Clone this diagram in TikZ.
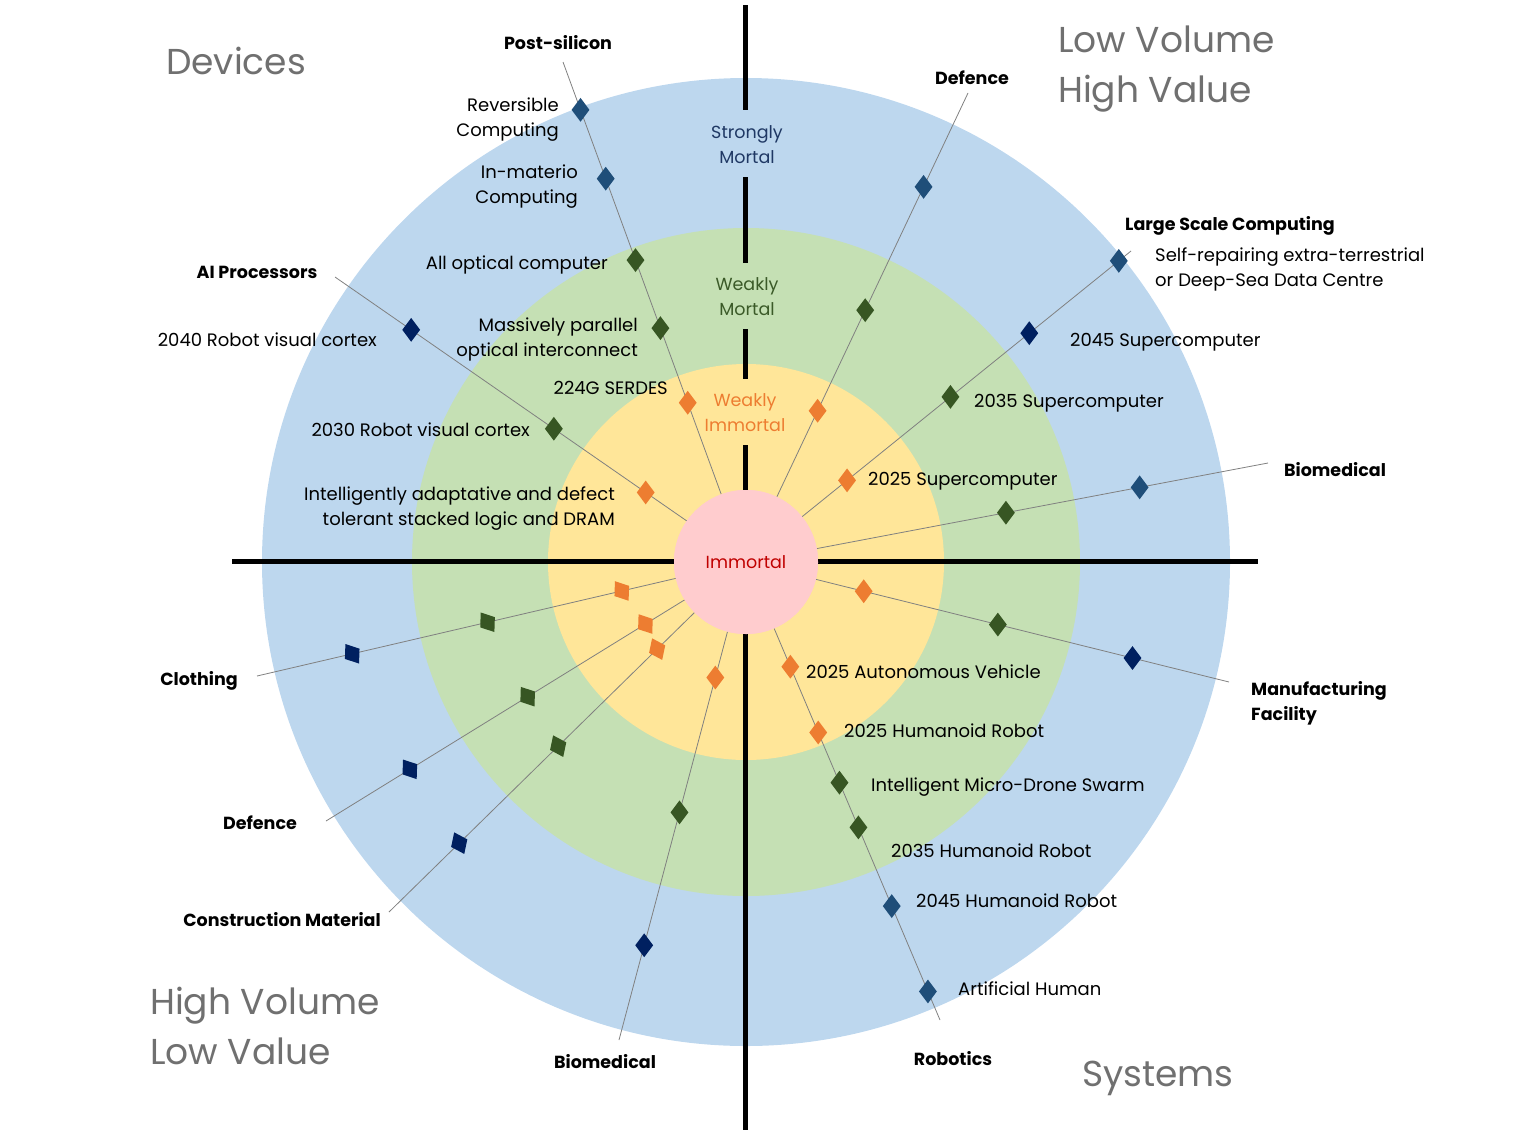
\documentclass[tikz,border=0pt]{standalone}
\usepackage{fontspec}
\setmainfont{Poppins}
\usetikzlibrary{shapes.geometric,calc}
\definecolor{ringblue}{HTML}{BDD7EE}
\definecolor{ringgreen}{HTML}{C5E0B4}
\definecolor{ringyellow}{HTML}{FFE699}
\definecolor{ringpink}{HTML}{FFCCCE}
\definecolor{dorange}{HTML}{ED7D31}
\definecolor{dgreen}{HTML}{375623}
\definecolor{dnavy}{HTML}{002060}
\definecolor{dblue}{HTML}{1F4E79}
\definecolor{quadgray}{HTML}{707070}
\definecolor{immred}{HTML}{C00000}
\definecolor{mortnavy}{HTML}{1F3864}
\definecolor{mortgreen}{HTML}{3B5A28}
\tikzset{
  lbl/.style={font=\fontsize{18}{25}\selectfont, text=black, inner sep=0},
  cat/.style={font=\fontsize{17.5}{25}\selectfont\bfseries, text=black, inner sep=0},
  quad/.style={font=\fontsize{36}{50}\selectfont, text=quadgray, inner sep=0, align=left},
  ring/.style={font=\fontsize{17.5}{25}\selectfont, inner sep=0, align=center},
  spoke/.style={draw=gray, line width=0.8pt},
  axis/.style={line width=5pt, black},
  mk/.style={diamond, minimum width=18pt, minimum height=24pt, inner sep=0},
  mo/.style={mk, fill=dorange},
  mg/.style={mk, fill=dgreen},
  mn/.style={mk, fill=dnavy},
  mb/.style={mk, fill=dblue},
}
\begin{document}
\begin{tikzpicture}[x=1pt,y=-1pt]
\useasboundingbox (0,0) rectangle (1522,1133);
\coordinate (C) at (746,562);
% rings
\fill[ringblue] (C) circle[radius=484pt];
\fill[ringgreen] (C) circle[radius=334pt];
\fill[ringyellow] (C) circle[radius=198pt];
% axes
\draw[axis] (232,561) -- (1258,561);
\draw[axis] (745,5) -- (745,110);
\draw[axis] (745,177) -- (745,263);
\draw[axis] (745,329) -- (745,379);
\draw[axis] (745,445) -- (745,1130);
% spoke ends
\coordinate (ePS) at (563,62);
\coordinate (eDT) at (968,93);
\coordinate (eLS) at (1131,251);
\coordinate (eBR) at (1268,463);
\coordinate (eMF) at (1229,682);
\coordinate (eRB) at (940,1020);
\coordinate (eBB) at (619,1040);
\coordinate (eCM) at (389,912);
\coordinate (eDB) at (326,821);
\coordinate (eCL) at (257,676);
\coordinate (eAI) at (335,277);
% centre
\node[circle, fill=ringpink, minimum size=144pt, inner sep=0] (imm) at (C) {};
\foreach \e in {ePS,eDT,eLS,eBR,eMF,eRB,eBB,eCM,eDB,eCL,eAI}
  \draw[spoke] (imm) -- (\e);
\node[circle, fill=ringpink, minimum size=144pt, inner sep=0, font=\fontsize{17.5}{20}\selectfont, text=immred] (immt) at (C) {Immortal};
% ring labels
\node[ring, text=mortnavy] (sm) at (747,145) {Strongly\\Mortal};
\node[ring, text=mortgreen] (wm) at (747,297) {Weakly\\Mortal};
\node[ring, text=dorange] (wi) at (745,413) {Weakly\\Immortal};
% diamonds: Post-silicon
\node[mb] (ps1) at ($(C)!(580,110)!(ePS)$) {};
\node[mb] (ps2) at ($(C)!(602,180)!(ePS)$) {};
\node[mg] (ps3) at ($(C)!(633,261)!(ePS)$) {};
\node[mg] (ps4) at ($(C)!(658,329)!(ePS)$) {};
\node[mo] (ps5) at ($(C)!(687,403)!(ePS)$) {};
% Defence top
\node[mb] (dt1) at ($(C)!(924,187)!(eDT)$) {};
\node[mg] (dt2) at ($(C)!(867,311)!(eDT)$) {};
\node[mo] (dt3) at ($(C)!(816,410)!(eDT)$) {};
% Large scale computing
\node[mb] (ls1) at ($(C)!(1123,266)!(eLS)$) {};
\node[mn] (ls2) at ($(C)!(1034,339)!(eLS)$) {};
\node[mg] (ls3) at ($(C)!(953,400)!(eLS)$) {};
\node[mo] (ls4) at ($(C)!(850,484)!(eLS)$) {};
% Biomedical right
\node[mb] (br1) at ($(C)!(1140,489)!(eBR)$) {};
\node[mg] (br2) at ($(C)!(1006,513)!(eBR)$) {};
% Manufacturing
\node[mo] (mf1) at ($(C)!(863,594)!(eMF)$) {};
\node[mg] (mf2) at ($(C)!(997,628)!(eMF)$) {};
\node[mn] (mf3) at ($(C)!(1132,660)!(eMF)$) {};
% Robotics
\node[mo] (rb1) at ($(C)!(792,666)!(eRB)$) {};
\node[mo] (rb2) at ($(C)!(817,733)!(eRB)$) {};
\node[mg] (rb3) at ($(C)!(841,782)!(eRB)$) {};
\node[mg] (rb4) at ($(C)!(857,828)!(eRB)$) {};
\node[mb] (rb5) at ($(C)!(892,906)!(eRB)$) {};
\node[mb] (rb6) at ($(C)!(929,991)!(eRB)$) {};
% Biomedical bottom
\node[mo] (bb1) at ($(C)!(717,678)!(eBB)$) {};
\node[mg] (bb2) at ($(C)!(678,812)!(eBB)$) {};
\node[mn] (bb3) at ($(C)!(643,945)!(eBB)$) {};
% Construction
\node[mo, rotate=25] (cm1) at ($(C)!(658,650)!(eCM)$) {};
\node[mg, rotate=25] (cm2) at ($(C)!(557,745)!(eCM)$) {};
\node[mn, rotate=25] (cm3) at ($(C)!(459,843)!(eCM)$) {};
% Defence bottom
\node[mo, rotate=35] (db1) at ($(C)!(646,625)!(eDB)$) {};
\node[mg, rotate=35] (db2) at ($(C)!(526,694)!(eDB)$) {};
\node[mn, rotate=35] (db3) at ($(C)!(409,768)!(eDB)$) {};
% Clothing
\node[mo, rotate=35] (cl1) at ($(C)!(622,592)!(eCL)$) {};
\node[mg, rotate=35] (cl2) at ($(C)!(487,620)!(eCL)$) {};
\node[mn, rotate=35] (cl3) at ($(C)!(352,653)!(eCL)$) {};
% AI processors
\node[mn] (ai1) at ($(C)!(411,330)!(eAI)$) {};
\node[mg] (ai2) at ($(C)!(555,427)!(eAI)$) {};
\node[mo] (ai3) at ($(C)!(646,492)!(eAI)$) {};
% category labels
\node[cat] (tPS) at (558,43) {Post-silicon};
\node[cat] (tDT) at (972,78) {Defence};
\node[cat] (tLS) at (1230,226) {Large Scale Computing};
\node[cat] (tBR) at (1335,470) {Biomedical};
\node[cat, align=left, anchor=west] (tMF) at (1251,703) {Manufacturing\\Facility};
\node[cat] (tRB) at (953,1059) {Robotics};
\node[cat] (tBB) at (605,1062) {Biomedical};
\node[cat] (tCM) at (282,920) {Construction Material};
\node[cat] (tDB) at (260,823) {Defence};
\node[cat] (tCL) at (199,681) {Clothing};
\node[cat] (tAI) at (257,272) {AI Processors};
% item labels
\node[lbl, align=right, anchor=east] (l1) at (559,120) {Reversible\\Computing};
\node[lbl, align=right, anchor=east] (l2) at (578,187) {In-materio\\Computing};
\node[lbl, anchor=east] (l3) at (608,265) {All optical computer};
\node[lbl, align=right, anchor=east] (l4) at (638,339) {Massively parallel\\optical interconnect};
\node[lbl, anchor=east] (l5) at (668,388) {224G SERDES};
\node[lbl, align=left, anchor=west] (l6) at (1155,269) {Self-repairing extra-terrestrial\\or Deep-Sea Data Centre};
\node[lbl, anchor=west] (l7) at (1070,342) {2045 Supercomputer};
\node[lbl, anchor=west] (l8) at (974,403) {2035 Supercomputer};
\node[lbl, anchor=west] (l9) at (868,481) {2025 Supercomputer};
\node[lbl, anchor=west] (l10) at (806,672) {2025 Autonomous Vehicle};
\node[lbl, anchor=west] (l11) at (844,731) {2025 Humanoid Robot};
\node[lbl, anchor=west] (l12) at (871,787) {Intelligent Micro-Drone Swarm};
\node[lbl, anchor=west] (l13) at (891,851) {2035 Humanoid Robot};
\node[lbl, anchor=west] (l14) at (916,901) {2045 Humanoid Robot};
\node[lbl, anchor=west] (l15) at (958,989) {Artificial Human};
\node[lbl, anchor=east] (l16) at (377,340) {2040 Robot visual cortex};
\node[lbl, anchor=east] (l17) at (530,430) {2030 Robot visual cortex};
\node[lbl, align=right, anchor=east] (l18) at (615,509) {Intelligently adaptative and defect\\tolerant stacked logic and DRAM};
% quadrant labels
\node[quad] (qD) at (236,61) {Devices};
\node[quad, anchor=west] (qL) at (1058,69) {Low Volume\\High Value};
\node[quad, anchor=west] (qH) at (150,1026) {High Volume\\Low Value};
\node[quad] (qS) at (1158,1078) {Systems};
\end{tikzpicture}
\end{document}
